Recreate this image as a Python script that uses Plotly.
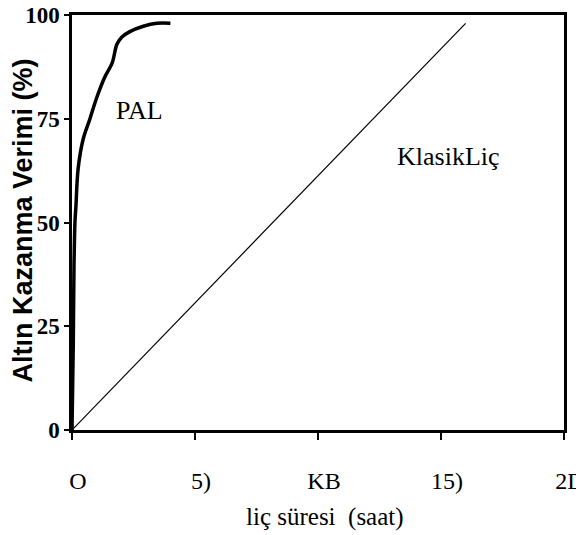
import plotly.graph_objects as go

# PAL (pressure-assisted leaching) recovery curve
pal_time = [0.0, 0.05, 0.08, 0.12, 0.16, 0.25, 0.45, 0.73, 1.0, 1.33, 1.63, 1.83, 2.03, 2.35, 2.9, 3.45, 4.0]
pal_recovery = [0.0, 20.0, 39.0, 50.0, 54.0, 63.0, 70.0, 75.0, 80.0, 85.0, 88.4, 93.0, 94.7, 96.0, 97.3, 98.0, 98.0]

# Classic leaching line
klasik_time = [0.0, 16.0]
klasik_recovery = [0.0, 98.0]

x_tickvals = [0, 5, 10, 15, 20]
x_ticktext = ["O", "5)", "KB", "15)", "2D"]
y_tickvals = [0, 25, 50, 75, 100]
y_ticktext = ["0", "25", "50", "75", "100"]

SERIF = "Liberation Serif, Times New Roman, serif"
SANS = "Liberation Sans, Arial, sans-serif"

fig = go.Figure()
fig.add_trace(go.Scatter(x=pal_time, y=pal_recovery, mode="lines",
                         line=dict(color="black", width=3.5, shape="spline"),
                         showlegend=False))
fig.add_trace(go.Scatter(x=klasik_time, y=klasik_recovery, mode="lines",
                         line=dict(color="black", width=1.2),
                         showlegend=False))

fig.add_annotation(x=2.76, y=77, text="PAL", showarrow=False,
                   font=dict(family=SERIF, size=26, color="black"))
fig.add_annotation(x=15.3, y=66, text="KlasikLiç", showarrow=False,
                   font=dict(family=SERIF, size=26, color="black"))

# axis titles as paper annotations for exact placement
fig.add_annotation(xref="paper", yref="paper", x=0.5, y=0, xanchor="center", yanchor="middle",
                   xshift=7, yshift=-87, showarrow=False, text="liç süresi  (saat)",
                   font=dict(family=SERIF, size=25, color="black"))
fig.add_annotation(xref="paper", yref="paper", x=0, y=0.5, xanchor="center", yanchor="middle",
                   xshift=-50, yshift=2, showarrow=False, textangle=-90,
                   text="Altın Kazanma Verimi (%)",
                   font=dict(family=SANS, size=27, color="black", weight="bold"))

fig.update_layout(
    width=584, height=535,
    margin=dict(l=64, r=28, t=7, b=113, autoexpand=False),
    plot_bgcolor="white", paper_bgcolor="white",
    font=dict(family=SERIF, color="black"),
)
fig.update_xaxes(
    range=[0, 20], tickvals=x_tickvals, ticktext=x_ticktext,
    showgrid=False, zeroline=False, automargin=False,
    showline=True, linecolor="black", linewidth=2.5, mirror=True,
    ticks="outside", ticklen=7, tickwidth=2, tickcolor="black",
    ticklabelstandoff=20, ticklabelshift=6, ticklabeloverflow="allow",
    tickfont=dict(family=SERIF, size=24, color="black"),
)
fig.update_yaxes(
    range=[0, 100], tickvals=y_tickvals, ticktext=y_ticktext,
    showgrid=False, zeroline=False, automargin=False,
    showline=True, linecolor="black", linewidth=2.5, mirror=True,
    ticks="outside", ticklen=5, tickwidth=1.5, tickcolor="black",
    ticklabeloverflow="allow",
    tickfont=dict(family=SERIF, size=23, color="black", weight="bold"),
)

fig.write_html("out.html")
